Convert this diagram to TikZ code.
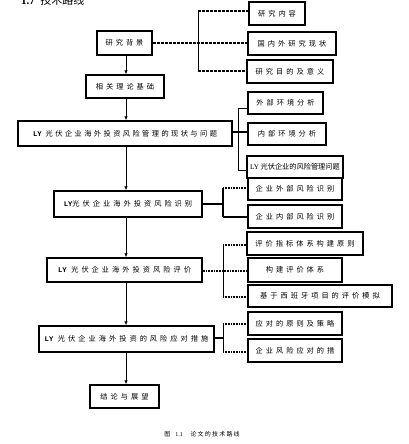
\documentclass[tikz,border=0pt]{standalone}
\usepackage{fontspec}
\setmainfont{Liberation Serif}
\newfontfamily\cjk{Noto Sans CJK SC}[LetterSpace=42]
\newfontfamily\cjkm{Noto Sans CJK SC}[LetterSpace=34]
\newfontfamily\cjkt{Noto Sans CJK SC}[LetterSpace=0]
\newfontfamily\cjkc{Noto Sans CJK SC}[LetterSpace=20]
\newfontfamily\monob{Liberation Mono}
\usetikzlibrary{arrows.meta}
\begin{document}
\begin{tikzpicture}[x=1pt,y=-1pt,
  box/.style={draw,line width=1.4pt,inner sep=0pt,font=\cjk\fontsize{7.2}{8}\selectfont},
  sz/.style 2 args={minimum width=#1pt,minimum height=#2pt},
  arr/.style={line width=0.9pt,-{Latex[length=4pt,width=3.5pt]}},
  thinl/.style={line width=1pt},
  thk/.style={line width=1.8pt},
  dsh/.style={line width=1.4pt,dash pattern=on 3pt off 1pt},
  dot/.style={line width=1.4pt,dash pattern=on 1pt off 0.6pt}]
\useasboundingbox (0,0) rectangle (408,444);
\node[anchor=base west,inner sep=0pt] (hd) at (21,5) {\fontsize{11}{12}\selectfont\bfseries 1.7\ \ {\cjkt\mdseries 技术路线}};

% main column
\coordinate (ax) at (126,0);
\node[box,sz={55}{24}] (bg) at (124.5,43) {研究背景};
\node[box,sz={78}{23}] (ll) at (125,86.5) {相关理论基础};
\node[box,sz={214}{25},font=\cjkm\fontsize{7.2}{8}\selectfont] (m1) at (125,133.5) {{\monob\bfseries LY} 光伏企业海外投资风险管理的现状与问题};
\node[box,sz={148}{26}] (m2) at (128,204) {{\monob\bfseries LY}光伏企业海外投资风险识别};
\node[box,sz={155}{24}] (m3) at (124.5,270) {{\monob\bfseries LY} 光伏企业海外投资风险评价};
\node[box,sz={175}{26}] (m4) at (126.5,339) {{\monob\bfseries LY} 光伏企业海外投资的风险应对措施};
\node[box,sz={69}{23}] (jl) at (124.5,396.5) {结论与展望};

% right column
\node[box,sz={56}{23}] (jc) at (277,13.5) {研究内容};
\node[box,sz={88}{23}] (gn) at (292,43.5) {国内外研究现状};
\node[box,sz={86}{23}] (md) at (290,71.5) {研究目的及意义};
\node[box,sz={75}{22}] (wb) at (285.5,103) {外部环境分析};
\node[box,sz={78}{22}] (nb) at (287,134) {内部环境分析};
\node[box,sz={96}{22},font=\cjkt\fontsize{7.2}{8}\selectfont] (lyw) at (295,167) {{\rmfamily LY} 光伏企业的风险管理问题};
\node[box,sz={94}{22}] (ws) at (295,189) {企业外部风险识别};
\node[box,sz={94}{23}] (ns) at (295,216.5) {企业内部风险识别};
\node[box,sz={116}{23}] (pj) at (305,243.5) {评价指标体系构建原则};
\node[box,sz={94}{24}] (gj) at (295,270) {构建评价体系};
\node[box,sz={144}{22}] (jy) at (320,296) {基于西班牙项目的评价模拟};
\node[box,sz={94}{23}] (yd) at (295,323.5) {应对的原则及策略};
\node[box,sz={94}{23}] (qy) at (295,350.5) {企业风险应对的措};

% arrows
\draw[arr] (bg.south -| ax) -- (ll.north -| ax);
\draw[arr] (ll.south -| ax) -- (m1.north -| ax);
\draw[arr] (m1.south -| ax) -- (m2.north -| ax);
\draw[arr] (m2.south -| ax) -- (m3.north -| ax);
\draw[arr] (m3.south -| ax) -- (m4.north -| ax);
\draw[arr] (m4.south -| ax) -- (jl.north -| ax);

% group 1
\coordinate (j1t) at (198,11);
\coordinate (j1b) at (198,71);
\draw[dsh] (bg.east) -- (gn.west |- bg.east);
\draw[thinl] (j1t) -- (j1b);
\draw[dsh] (j1t) -- (jc.west |- j1t);
\draw[dsh] (j1b) -- (md.west |- j1b);

% group 2
\coordinate (j2) at (238,132);
\coordinate (j2t) at (238,108);
\coordinate (j2b) at (238,170);
\draw[thk] (m1.east |- j2) -- (nb.west |- j2);
\draw[thinl] (j2t) -- (j2b);
\draw[thinl] (j2t) -- (wb.west |- j2t);
\draw[thinl] (j2b) -- (lyw.west |- j2b);

% group 3
\coordinate (j3) at (223,204);
\coordinate (j3t) at (223,188);
\coordinate (j3b) at (223,217);
\draw[thk] (m2.east |- j3) -- (j3);
\draw[thk] (j3t) -- (j3b);
\draw[dot] (j3t) -- (ws.west |- j3t);
\draw[thk] (j3b) -- (ns.west |- j3b);

% group 4
\coordinate (j4) at (223,271);
\coordinate (j4t) at (223,245);
\coordinate (j4b) at (223,297);
\draw[dot] (m3.east |- j4) -- (gj.west |- j4);
\draw[thinl] (j4t) -- (j4b);
\draw[dot] (j4t) -- (pj.west |- j4t);
\draw[dot] (j4b) -- (jy.west |- j4b);

% group 5
\coordinate (j5) at (223,338);
\coordinate (j5t) at (223,324);
\coordinate (j5b) at (223,352);
\draw[thk] (m4.east |- j5) -- (j5);
\draw[thinl] (j5t) -- (j5b);
\draw[dot] (j5t) -- (yd.west |- j5t);
\draw[dot] (j5b) -- (qy.west |- j5b);

\node[inner sep=0pt,font=\cjkc\fontsize{6}{7}\selectfont] (cap) at (202,434) {图\ \ {\rmfamily 1.1}\ \ \ 论文的技术路线};
\end{tikzpicture}
\end{document}
